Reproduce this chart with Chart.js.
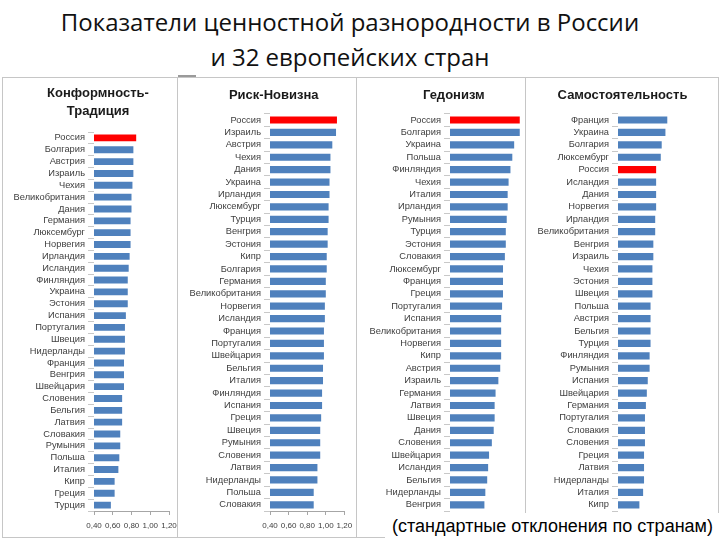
<!DOCTYPE html>
<html lang="ru">
<head>
<meta charset="utf-8">
<title>Показатели ценностной разнородности</title>
<script src="https://cdn.jsdelivr.net/npm/chart.js@4.4.1/dist/chart.umd.min.js"></script>
<style>
  body { margin: 0; background: #fff; }
  #page { position: relative; width: 720px; height: 540px; overflow: hidden; }
  .heading { position: absolute; left: 0; width: 700px; text-align: center; font-family: 'Open Sans', sans-serif; font-size: 24px; line-height: 30px; color: #111; }
  .panel { position: absolute; top: 77px; height: 461px; border: 1px solid #c6c6c6; box-sizing: border-box; }
  .tab { position: absolute; left: 178px; top: 75px; width: 18px; height: 2px; background: #9a9a9a; }
  canvas { position: absolute; top: 78px; }
  #note { position: absolute; left: 385px; top: 513px; width: 335px; height: 27px; background: #fff; font-family: 'Liberation Sans', Arial, sans-serif; font-size: 18px; line-height: 27px; color: #000; text-align: center; }
</style>
</head>
<body>
<div id="page">
  <div class="heading" style="top:7px">Показатели ценностной разнородности в России</div>
  <div class="heading" style="top:42px">и 32 европейских стран</div>

  <div class="panel" style="left:2px;width:176px"></div>
  <div class="panel" style="left:177px;width:180px"></div>
  <div class="panel" style="left:356px;width:170px"></div>
  <div class="panel" style="left:525px;width:194px"></div>
  <div class="tab"></div>

  <canvas id="chart-conformity" width="175" height="460" style="left:2px"></canvas>
  <canvas id="chart-risk" width="179" height="460" style="left:177px"></canvas>
  <canvas id="chart-hedonism" width="169" height="460" style="left:356px"></canvas>
  <canvas id="chart-autonomy" width="193" height="460" style="left:525px"></canvas>

  <div id="note">(стандартные отклонения по странам)</div>
</div>

<script>
// Ось X общая для всех панелей
const axisMin = 0.4;
const axisMax = 1.2;
const axisStep = 0.2;

// Конформность-Традиция
const conformityLabels = ['Россия', 'Болгария', 'Австрия', 'Израиль', 'Чехия', 'Великобритания', 'Дания', 'Германия',
    'Люксембург', 'Норвегия', 'Ирландия', 'Исландия', 'Финляндия', 'Украина', 'Эстония', 'Испания',
    'Португалия', 'Швеция', 'Нидерланды', 'Франция', 'Венгрия', 'Швейцария', 'Словения', 'Бельгия',
    'Латвия', 'Словакия', 'Румыния', 'Польша', 'Италия', 'Кипр', 'Греция', 'Турция'];
const conformityValues = [0.85, 0.82, 0.82, 0.82, 0.81, 0.80, 0.80, 0.79,
    0.79, 0.79, 0.78, 0.77, 0.76, 0.76, 0.76, 0.74,
    0.73, 0.73, 0.73, 0.72, 0.72, 0.72, 0.70, 0.70,
    0.70, 0.68, 0.68, 0.67, 0.66, 0.62, 0.62, 0.58];

// Риск-Новизна
const riskLabels = ['Россия', 'Израиль', 'Австрия', 'Чехия', 'Дания', 'Украина', 'Ирландия', 'Люксембург',
    'Турция', 'Венгрия', 'Эстония', 'Кипр', 'Болгария', 'Германия', 'Великобритания', 'Норвегия',
    'Исландия', 'Франция', 'Португалия', 'Швейцария', 'Бельгия', 'Италия', 'Финляндия', 'Испания',
    'Греция', 'Швеция', 'Румыния', 'Словения', 'Латвия', 'Нидерланды', 'Польша', 'Словакия'];
const riskValues = [1.12, 1.11, 1.07, 1.05, 1.05, 1.04, 1.04, 1.03,
    1.03, 1.02, 1.02, 1.01, 1.01, 1.00, 1.00, 0.99,
    0.99, 0.98, 0.98, 0.98, 0.97, 0.97, 0.96, 0.96,
    0.95, 0.94, 0.94, 0.94, 0.91, 0.91, 0.87, 0.87];

// Гедонизм
const hedonismLabels = ['Россия', 'Болгария', 'Украина', 'Польша', 'Финляндия', 'Чехия', 'Италия', 'Ирландия',
    'Румыния', 'Турция', 'Эстония', 'Словакия', 'Люксембург', 'Франция', 'Греция', 'Португалия',
    'Испания', 'Великобритания', 'Норвегия', 'Кипр', 'Австрия', 'Израиль', 'Германия', 'Латвия',
    'Швеция', 'Дания', 'Словения', 'Швейцария', 'Исландия', 'Бельгия', 'Нидерланды', 'Венгрия'];
const hedonismValues = [1.15, 1.15, 1.09, 1.07, 1.05, 1.03, 1.02, 1.02,
    1.01, 1.00, 1.00, 0.99, 0.97, 0.97, 0.97, 0.96,
    0.95, 0.95, 0.95, 0.95, 0.94, 0.92, 0.89, 0.88,
    0.88, 0.87, 0.85, 0.82, 0.81, 0.80, 0.78, 0.77];

// Самостоятельность
const autonomyLabels = ['Франция', 'Украина', 'Болгария', 'Люксембург', 'Россия', 'Исландия', 'Дания', 'Норвегия',
    'Ирландия', 'Великобритания', 'Венгрия', 'Израиль', 'Чехия', 'Эстония', 'Швеция', 'Польша',
    'Австрия', 'Бельгия', 'Турция', 'Финляндия', 'Румыния', 'Испания', 'Швейцария', 'Германия',
    'Португалия', 'Словакия', 'Словения', 'Греция', 'Латвия', 'Нидерланды', 'Италия', 'Кипр'];
const autonomyValues = [0.93, 0.91, 0.87, 0.86, 0.81, 0.81, 0.81, 0.81,
    0.80, 0.80, 0.78, 0.78, 0.77, 0.77, 0.77, 0.75,
    0.75, 0.75, 0.75, 0.74, 0.74, 0.72, 0.71, 0.70,
    0.69, 0.69, 0.69, 0.68, 0.68, 0.68, 0.67, 0.63];

const barColor = '#4f81bd';
const russiaColor = '#ff0000';
const labelFont = "'Liberation Sans', sans-serif";

// заголовок панели центрируется не по всей ширине холста, а по заданной точке
const titleCenter = {
    id: 'titleCenter',
    afterLayout(chart, args, opts) {
        const t = chart.titleBlock;
        if (!t || opts.x == null) return;
        const half = (t.right - t.left) / 2;
        t.left = opts.x - half;
        t.right = opts.x + half;
    },
};

function makePanel(id, title, labels, values, box) {
    return new Chart(document.getElementById(id), {
        type: 'bar',
        data: {
            labels: labels,
            datasets: [{
                data: values,
                backgroundColor: labels.map(c => c === 'Россия' ? russiaColor : barColor),
                barPercentage: 0.58,
                categoryPercentage: 1,
            }],
        },
        plugins: [titleCenter],
        options: {
            indexAxis: 'y',
            responsive: false,
            animation: false,
            layout: { padding: { left: 0, right: box.padRight, top: 0, bottom: 5 } },
            plugins: {
                legend: { display: false },
                tooltip: { enabled: false },
                titleCenter: { x: box.titleX },
                title: {
                    display: true,
                    text: title,
                    color: '#1a1a1a',
                    font: { family: 'Liberation Sans', size: 13, weight: 'bold', lineHeight: 1.4 },
                    padding: box.titlePad,
                },
            },
            scales: {
                x: {
                    min: axisMin,
                    max: axisMax,
                    ticks: {
                        display: box.showAxis,
                        stepSize: axisStep,
                        autoSkip: false,
                        maxRotation: 0,
                        minRotation: 0,
                        padding: 6,
                        color: '#404040',
                        font: { family: labelFont, size: 8 },
                        callback: v => v.toFixed(2).replace('.', ','),
                    },
                    grid: { display: box.showAxis, drawOnChartArea: false, tickLength: 4, color: '#a6a6a6' },
                    border: { display: box.showAxis, color: '#a6a6a6' },
                    afterFit: s => { s.height = 22; s.paddingLeft = 0; s.paddingRight = 0; },
                },
                y: {
                    ticks: {
                        autoSkip: false,
                        padding: 3,
                        color: '#404040',
                        font: { family: labelFont, size: 9.3 },
                    },
                    grid: { drawOnChartArea: false, tickLength: 6, color: '#c8c8c8' },
                    border: { display: false },
                    afterFit: s => { s.width = box.axisWidth; s.paddingTop = 0; s.paddingBottom = 0; },
                },
            },
        },
    });
}

makePanel('chart-conformity', ['Конформность-', 'Традиция'], conformityLabels, conformityValues,
    { padRight: 8, axisWidth: 92, titleX: 96, titlePad: { top: 6, bottom: 11.6 }, showAxis: true });
makePanel('chart-risk', 'Риск-Новизна', riskLabels, riskValues,
    { padRight: 11.6, axisWidth: 93, titleX: 96.7, titlePad: { top: 8, bottom: 9.6 }, showAxis: true });
makePanel('chart-hedonism', 'Гедонизм', hedonismLabels, hedonismValues,
    { padRight: 0.6, axisWidth: 94, titleX: 97.8, titlePad: { top: 8, bottom: 9.6 }, showAxis: false });
makePanel('chart-autonomy', 'Самостоятельность', autonomyLabels, autonomyValues,
    { padRight: 25.6, axisWidth: 93, titleX: 97.5, titlePad: { top: 8, bottom: 9.6 }, showAxis: false });
</script>
</body>
</html>
